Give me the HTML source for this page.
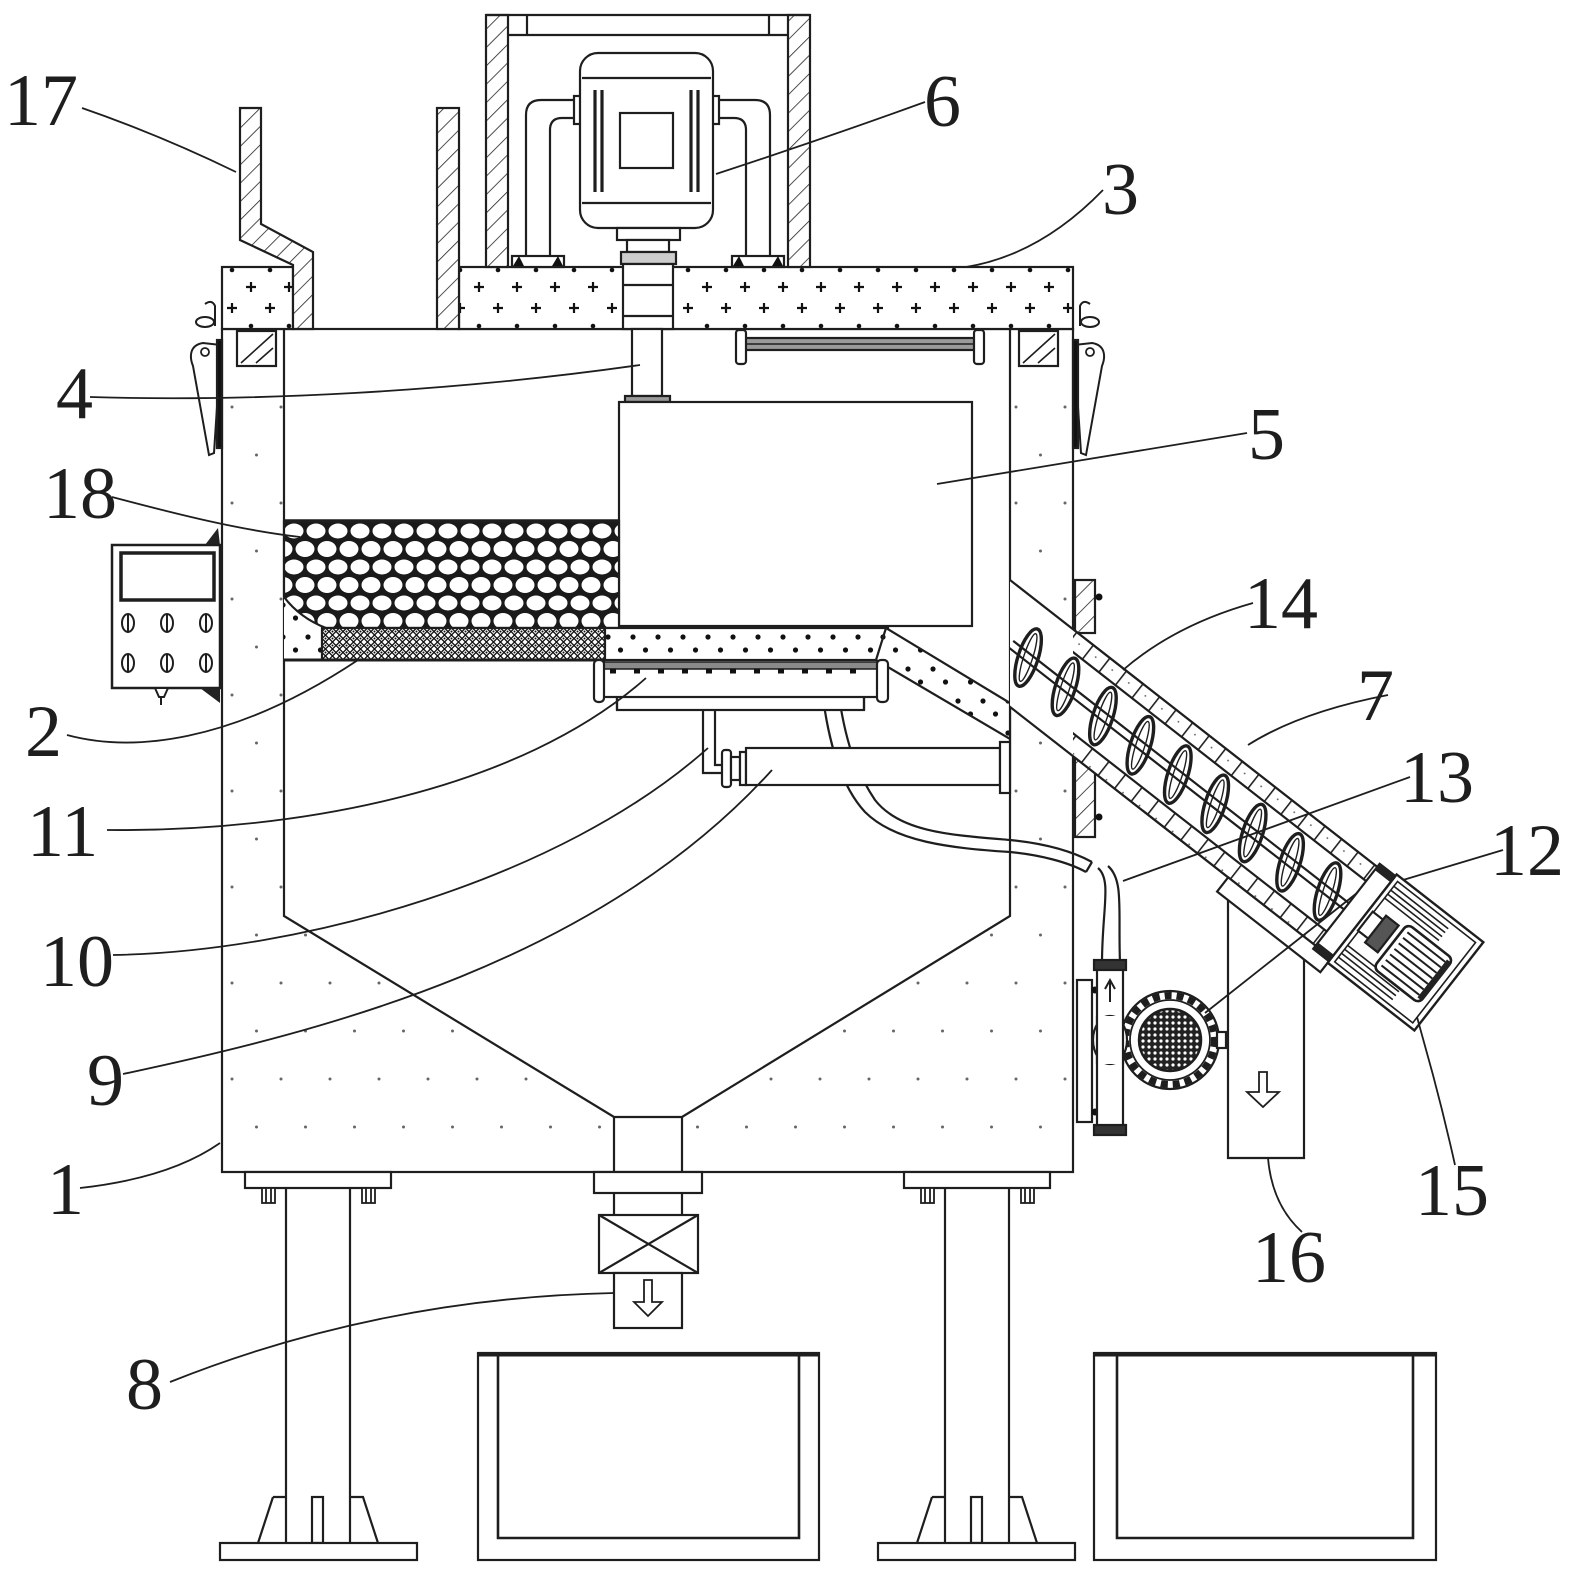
<!DOCTYPE html>
<html><head><meta charset="utf-8"><style>
html,body{margin:0;padding:0;background:#fff;}
svg{display:block;}
text{font-family:"Liberation Serif",serif;font-size:74px;fill:#1e1e1e;}
</style></head><body>
<svg width="1573" height="1577" viewBox="0 0 1573 1577" xmlns="http://www.w3.org/2000/svg">
<defs>
 <pattern id="hatch" patternUnits="userSpaceOnUse" width="13" height="13" patternTransform="rotate(45)">
  <rect width="13" height="13" fill="#fff"/>
  <line x1="0" y1="0" x2="0" y2="13" stroke="#222" stroke-width="1.6"/>
 </pattern>
 <pattern id="lidp" patternUnits="userSpaceOnUse" x="479" y="267" width="38" height="62">
  <rect width="38" height="62" fill="#fff"/>
  <path d="M-5,20h10M0,15v10M33,20h10M38,15v10M14,41h10M19,36v10" stroke="#111" stroke-width="2.2"/>
  <circle cx="19" cy="3" r="2.3" fill="#111"/>
  <circle cx="0" cy="59" r="2.3" fill="#111"/><circle cx="38" cy="59" r="2.3" fill="#111"/>
 </pattern>
 <pattern id="dots" patternUnits="userSpaceOnUse" x="232" y="695" width="49" height="96">
  <circle cx="0" cy="0" r="1.5" fill="#666"/><circle cx="49" cy="0" r="1.5" fill="#666"/>
  <circle cx="0" cy="96" r="1.5" fill="#666"/><circle cx="49" cy="96" r="1.5" fill="#666"/>
  <circle cx="24.5" cy="48" r="1.5" fill="#666"/>
 </pattern>
 <pattern id="bandp" patternUnits="userSpaceOnUse" x="600" y="628" width="25" height="32">
  <rect width="25" height="32" fill="#fff"/>
  <circle cx="8" cy="9" r="2.6" fill="#111"/><circle cx="20.5" cy="22" r="2.6" fill="#111"/>
 </pattern>
 <pattern id="mesh" patternUnits="userSpaceOnUse" x="0" y="628" width="7" height="7">
  <rect width="7" height="7" fill="#fff"/>
  <path d="M0,3.5 L3.5,0 L7,3.5 L3.5,7 Z" fill="none" stroke="#111" stroke-width="1.3"/>
  <circle cx="3.5" cy="3.5" r="1" fill="#111"/>
 </pattern>
 <pattern id="stones" patternUnits="userSpaceOnUse" x="283" y="522" width="44" height="36">
  <rect width="44" height="36" fill="#1a1a1a"/>
  <ellipse cx="11" cy="9" rx="9.5" ry="7.5" fill="#fff"/>
  <ellipse cx="33" cy="9" rx="9.5" ry="7.5" fill="#fff"/>
  <ellipse cx="0" cy="27" rx="9.5" ry="8" fill="#fff"/>
  <ellipse cx="22" cy="27" rx="9.5" ry="8" fill="#fff"/>
  <ellipse cx="44" cy="27" rx="9.5" ry="8" fill="#fff"/>
 </pattern>
 <pattern id="pm" patternUnits="userSpaceOnUse" width="6" height="6">
  <rect width="6" height="6" fill="#222"/>
  <circle cx="3" cy="3" r="1.6" fill="#fff"/>
 </pattern>
 <pattern id="cells" patternUnits="userSpaceOnUse" x="0" y="0" width="21" height="18">
  <rect width="21" height="18" fill="#fff"/>
  <line x1="0.8" y1="0" x2="0.8" y2="18" stroke="#222" stroke-width="1.6"/>
  <circle cx="10" cy="8" r="0.9" fill="#555"/>
 </pattern>
 <clipPath id="clipIn" clipPathUnits="userSpaceOnUse"><rect x="1010" y="0" width="600" height="1577"/></clipPath>
 <clipPath id="clipOut" clipPathUnits="userSpaceOnUse"><rect x="1073" y="0" width="600" height="1577"/></clipPath>
 <g id="latch">
  <path d="M205,304 q7,-5 10,2 l0,20" fill="none" stroke="#1e1e1e" stroke-width="2"/>
  <ellipse cx="205" cy="322" rx="9" ry="5" fill="none" stroke="#1e1e1e" stroke-width="2"/>
  <path d="M203,343 C190,345 189,356 193,366 L209,455 L214,453 L221,345 Z" fill="#fff" stroke="#1e1e1e" stroke-width="2"/>
  <rect x="217" y="340" width="5" height="108" fill="#111"/>
  <circle cx="205" cy="352" r="4" fill="none" stroke="#1e1e1e" stroke-width="1.8"/>
 </g>
</defs>

<g fill="none" stroke="#1e1e1e" stroke-width="2.2">

<!-- ===== Tank walls with dots ===== -->
<path d="M222,329 H284 V916 L614,1117 V1172 H222 Z" fill="#fff" stroke="none"/>
<path d="M222,329 H284 V916 L614,1117 V1172 H222 Z" fill="url(#dots)" stroke="none"/>
<path d="M1073,329 H1010 V916 L682,1117 V1172 H1073 Z" fill="#fff" stroke="none"/>
<path d="M1073,329 H1010 V916 L682,1117 V1172 H1073 Z" fill="url(#dots)" stroke="none"/>
<rect x="222" y="329" width="851" height="843"/>
<path d="M284,329 V916 L614,1117 H682 L1010,916 V329"/>
<path d="M614,1117 V1172 M682,1117 V1172"/>

<!-- small hatched squares under lid -->
<rect x="237" y="331" width="39" height="35" fill="#fff"/>
<path d="M241,363 L273,334 M256,363 L273,348" stroke-width="1.6"/>
<rect x="1019" y="331" width="39" height="35" fill="#fff"/>
<path d="M1023,363 L1055,334 M1038,363 L1055,348" stroke-width="1.6"/>

<!-- handle -->
<rect x="745" y="338" width="230" height="12" fill="#9a9a9a"/>
<path d="M745,344 H975" stroke-width="1.4"/>
<rect x="736" y="330" width="10" height="34" rx="3" fill="#fff"/>
<rect x="974" y="330" width="10" height="34" rx="3" fill="#fff"/>

<!-- ===== Lid ===== -->
<rect x="222" y="267" width="71" height="62" fill="url(#lidp)"/>
<rect x="459" y="267" width="614" height="62" fill="url(#lidp)"/>

<!-- hopper 17 -->
<path d="M240,108 H261 V224 L313,252 V329 H293 V265 L240,240 Z" fill="url(#hatch)"/>
<rect x="437" y="108" width="22" height="221" fill="url(#hatch)"/>

<!-- motor box -->
<rect x="486" y="15" width="22" height="252" fill="url(#hatch)"/>
<rect x="788" y="15" width="22" height="252" fill="url(#hatch)"/>
<path d="M486,15 H810 M508,35 H788 M527,15 V35 M769,15 V35"/>

<!-- motor stand -->
<path d="M578,100 H541 Q526,100 526,115 V256"/>
<path d="M578,118 H562 Q550,118 550,130 V256"/>
<path d="M718,100 H755 Q770,100 770,115 V256"/>
<path d="M718,118 H734 Q746,118 746,130 V256"/>
<rect x="512" y="256" width="52" height="11" fill="#fff"/>
<rect x="732" y="256" width="52" height="11" fill="#fff"/>
<path d="M513,266 L519,256 L524,266 Z M552,266 L558,256 L563,266 Z M733,266 L739,256 L744,266 Z M772,266 L778,256 L783,266 Z" fill="#111" stroke="none"/>

<!-- motor -->
<rect x="574" y="96" width="7" height="28" fill="#fff"/>
<rect x="712" y="96" width="7" height="28" fill="#fff"/>
<rect x="580" y="53" width="133" height="175" rx="18" fill="#fff"/>
<path d="M582,78 H711 M582,203 H711"/>
<path d="M595,90 V192 M602,90 V192 M691,90 V192 M698,90 V192" stroke-width="3.2"/>
<rect x="620" y="113" width="53" height="55"/>

<!-- shaft and coupling -->
<rect x="617" y="228" width="63" height="12" fill="#fff"/>
<rect x="627" y="240" width="42" height="12" fill="#fff"/>
<rect x="621" y="252" width="55" height="12" fill="#ccc"/>
<rect x="623" y="264" width="50" height="65" fill="#fff"/>
<path d="M623,285 H673 M623,316 H673"/>
<rect x="632" y="329" width="30" height="67" fill="#fff"/>
<rect x="625" y="396" width="45" height="6" fill="#999"/>

<!-- box 5 -->
<rect x="619" y="402" width="353" height="224" fill="#fff"/>

<!-- latches -->
<use href="#latch"/>
<use href="#latch" transform="translate(1295,0) scale(-1,1)"/>

<!-- ===== filter / screen ===== -->
<rect x="284" y="597" width="40" height="63" fill="url(#bandp)" stroke="none"/>
<path d="M284,521 H619 V628 H326 Q300,618 284,597 Z" fill="url(#stones)"/>
<path d="M284,521 H619" stroke-width="3.5"/>
<rect x="322" y="628" width="283" height="32" fill="url(#mesh)"/>
<rect x="605" y="628" width="283" height="32" fill="url(#bandp)"/>
<path d="M886,628 L1010,703 L1010,739 L876,660 Z" fill="url(#bandp)"/>
<path d="M284,660 H605" stroke-width="3"/>

<!-- hose inside tank -->
<path d="M838,690 C845,740 855,770 875,800 C900,832 950,835 1010,840 C1040,843 1070,850 1092,862"/>
<path d="M822,690 C828,740 840,785 865,812 C895,842 950,848 1010,852 C1040,855 1068,862 1086,872"/>
<path d="M1086,872 L1092,862"/>

<!-- spray pipe 11 -->
<rect x="617" y="690" width="247" height="20" fill="#fff"/>
<path d="M617,665 V710 M864,665 V710"/>
<rect x="600" y="665" width="282" height="32" fill="#fff"/>
<rect x="600" y="662" width="282" height="7" fill="#8a8a8a" stroke-width="1.5"/>
<path d="M610,671 h6 M634,671 h6 M658,671 h6 M682,671 h6 M706,671 h6 M730,671 h6 M754,671 h6 M778,671 h6 M802,671 h6 M826,671 h6 M850,671 h6" stroke="#111" stroke-width="5"/>
<rect x="594" y="660" width="10" height="42" rx="4" fill="#fff"/>
<rect x="877" y="660" width="11" height="42" rx="4" fill="#fff"/>

<!-- pipe to tube 9 -->
<path d="M703,710 V773 H722 M715,710 V765 H722"/>
<rect x="722" y="750" width="9" height="37" rx="3" fill="#fff"/>
<rect x="731" y="757" width="9" height="23" fill="#fff"/>
<rect x="740" y="752" width="6" height="33" fill="#fff"/>
<rect x="746" y="748" width="254" height="37" fill="#fff"/>
<rect x="1000" y="742" width="10" height="51" fill="#fff"/>

<!-- brackets on tank right wall -->
<rect x="1075" y="580" width="20" height="53" fill="url(#hatch)"/>
<rect x="1075" y="757" width="20" height="80" fill="url(#hatch)"/>
<circle cx="1099" cy="597" r="3.5" fill="#111" stroke="none"/>
<circle cx="1099" cy="817" r="3.5" fill="#111" stroke="none"/>

<!-- ===== conveyor 7 ===== -->
<g clip-path="url(#clipIn)">
 <g transform="translate(1010,580) rotate(38)">
  <rect x="-30" y="0" width="500" height="100" fill="#fff" stroke="none"/>
  <path d="M-30,0 H470 M-30,100 H470"/>
  <path d="M40,46 H470 M40,54 H470"/>
  <g stroke-width="3.4">
   <ellipse cx="62" cy="50" rx="10" ry="30" transform="rotate(-20 62 50)"/>
   <ellipse cx="109.5" cy="50" rx="10" ry="30" transform="rotate(-20 109.5 50)"/>
   <ellipse cx="157" cy="50" rx="10" ry="30" transform="rotate(-20 157 50)"/>
   <ellipse cx="204.5" cy="50" rx="10" ry="30" transform="rotate(-20 204.5 50)"/>
   <ellipse cx="252" cy="50" rx="10" ry="30" transform="rotate(-20 252 50)"/>
   <ellipse cx="299.5" cy="50" rx="10" ry="30" transform="rotate(-20 299.5 50)"/>
   <ellipse cx="347" cy="50" rx="10" ry="30" transform="rotate(-20 347 50)"/>
   <ellipse cx="394.5" cy="50" rx="10" ry="30" transform="rotate(-20 394.5 50)"/>
   <ellipse cx="442" cy="50" rx="10" ry="30" transform="rotate(-20 442 50)"/>
  </g>
  <g stroke-width="1.4">
   <ellipse cx="62" cy="50" rx="4.5" ry="25" transform="rotate(-20 62 50)"/>
   <ellipse cx="109.5" cy="50" rx="4.5" ry="25" transform="rotate(-20 109.5 50)"/>
   <ellipse cx="157" cy="50" rx="4.5" ry="25" transform="rotate(-20 157 50)"/>
   <ellipse cx="204.5" cy="50" rx="4.5" ry="25" transform="rotate(-20 204.5 50)"/>
   <ellipse cx="252" cy="50" rx="4.5" ry="25" transform="rotate(-20 252 50)"/>
   <ellipse cx="299.5" cy="50" rx="4.5" ry="25" transform="rotate(-20 299.5 50)"/>
   <ellipse cx="347" cy="50" rx="4.5" ry="25" transform="rotate(-20 347 50)"/>
   <ellipse cx="394.5" cy="50" rx="4.5" ry="25" transform="rotate(-20 394.5 50)"/>
   <ellipse cx="442" cy="50" rx="4.5" ry="25" transform="rotate(-20 442 50)"/>
  </g>
 </g>
</g>
<g clip-path="url(#clipOut)">
 <g transform="translate(1010,580) rotate(38)">
  <rect x="0" y="0" width="470" height="18" fill="url(#cells)"/>
  <rect x="0" y="82" width="470" height="18" fill="url(#cells)"/>
 </g>
</g>
<g transform="translate(1010,580) rotate(38)">
 <rect x="355" y="100" width="131" height="18" fill="#fff"/>
 <rect x="466" y="-4" width="20" height="108" fill="#fff"/>
 <rect x="466" y="-4" width="20" height="8" fill="#222" stroke="none"/>
 <rect x="466" y="96" width="20" height="8" fill="#222" stroke="none"/>
 <rect x="486" y="-6" width="110" height="112" fill="#fff" stroke-width="2.4"/>
 <rect x="491" y="-1" width="99" height="102" stroke-width="1.6"/>
 <path d="M491,5 H560 M491,10 H560 M491,15 H560 M491,20 H560 M491,80 H560 M491,85 H560 M491,90 H560 M491,95 H560" stroke-width="1.6"/>
 <rect x="490" y="38" width="22" height="24" fill="#fff"/>
 <rect x="503" y="33" width="16" height="34" fill="#555"/>
 <rect x="525" y="26" width="58" height="56" rx="6" fill="#fff" stroke-width="2.6"/>
 <path d="M530,33 H578 M530,40 H578 M530,47 H578 M530,54 H578 M530,61 H578 M530,68 H578 M530,75 H578" stroke-width="2"/>
 <rect x="578" y="30" width="6" height="48" fill="#222" stroke="none"/>
</g>

<!-- pump hose -->
<path d="M1098,868 C1112,880 1102,910 1102,963"/>
<path d="M1108,866 C1124,880 1118,910 1120,963"/>

<!-- pump -->
<rect x="1077" y="980" width="15" height="142" fill="#fff"/>
<circle cx="1095" cy="990" r="3.5" fill="#111" stroke="none"/>
<circle cx="1095" cy="1112" r="3.5" fill="#111" stroke="none"/>
<circle cx="1170" cy="1040" r="49" fill="#fff"/>
<circle cx="1170" cy="1040" r="44.5" stroke-width="7" stroke-dasharray="7 5"/>
<circle cx="1170" cy="1040" r="40" stroke-width="1.8"/>
<circle cx="1170" cy="1040" r="31" fill="url(#pm)" stroke-width="2.5"/>
<rect x="1217" y="1032" width="9" height="16" fill="#fff"/>
<rect x="1097" y="965" width="26" height="167" fill="#fff"/>
<ellipse cx="1110" cy="1040" rx="17" ry="24" fill="#fff"/>
<rect x="1097" y="1016" width="26" height="48" fill="#fff" stroke="none"/>
<path d="M1097,1016 V1064 M1123,1016 V1064"/>
<rect x="1094" y="960" width="32" height="10" fill="#333"/>
<rect x="1094" y="1125" width="32" height="10" fill="#333"/>
<path d="M1110,1002 V982 M1105,989 L1110,980 L1115,989" stroke-width="2"/>

<!-- chute 16 -->
<path d="M1228,900 V1158 H1304 V959"/>
<path d="M1259,1072 H1267 V1092 H1279 L1263,1107 L1247,1092 H1259 Z" stroke-width="1.8"/>

<!-- ===== bottom: legs ===== -->
<rect x="245" y="1172" width="146" height="16" fill="#fff"/>
<rect x="904" y="1172" width="146" height="16" fill="#fff"/>
<g stroke-width="1.8" fill="#fff">
 <rect x="262" y="1188" width="13" height="15"/><path d="M266,1188 V1203 M271,1188 V1203"/>
 <rect x="362" y="1188" width="13" height="15"/><path d="M366,1188 V1203 M371,1188 V1203"/>
 <rect x="921" y="1188" width="13" height="15"/><path d="M925,1188 V1203 M930,1188 V1203"/>
 <rect x="1021" y="1188" width="13" height="15"/><path d="M1025,1188 V1203 M1030,1188 V1203"/>
</g>
<path d="M286,1188 V1543 M350,1188 V1543 M945,1188 V1543 M1009,1188 V1543"/>
<path d="M273,1497 H286 M258,1543 L273,1497 M350,1497 H363 L378,1543"/>
<rect x="312" y="1497" width="11" height="46"/>
<path d="M932,1497 H945 M917,1543 L932,1497 M1009,1497 H1022 L1037,1543"/>
<rect x="971" y="1497" width="11" height="46"/>
<rect x="220" y="1543" width="197" height="17" fill="#fff"/>
<rect x="878" y="1543" width="197" height="17" fill="#fff"/>

<!-- outlet / valve -->
<rect x="594" y="1172" width="108" height="21" fill="#fff"/>
<path d="M614,1193 V1215 M682,1193 V1215"/>
<rect x="599" y="1215" width="99" height="58" fill="#fff"/>
<path d="M599,1215 L698,1273 M698,1215 L599,1273"/>
<rect x="614" y="1273" width="68" height="55" fill="#fff"/>
<path d="M644,1280 H652 V1302 H662 L648,1316 L634,1302 H644 Z" stroke-width="1.8"/>

<!-- bins -->
<rect x="478" y="1353" width="341" height="207"/>
<path d="M498,1355 V1538 H799 V1355" stroke-width="2.6"/>
<path d="M478,1355 H819" stroke-width="3"/>
<rect x="1094" y="1353" width="342" height="207"/>
<path d="M1117,1355 V1538 H1413 V1355" stroke-width="2.6"/>
<path d="M1094,1355 H1436" stroke-width="3"/>

<!-- control panel -->
<path d="M205,545 L218,528 L220,545 Z" fill="#222" stroke="none"/>
<rect x="112" y="545" width="108" height="143" fill="#fff" stroke-width="2.5"/>
<rect x="121" y="553" width="93" height="47" stroke-width="3.5"/>
<g stroke-width="2">
 <ellipse cx="128" cy="623" rx="6" ry="9"/><path d="M128,615 V631"/>
 <ellipse cx="167" cy="623" rx="6" ry="9"/><path d="M167,615 V631"/>
 <ellipse cx="206" cy="623" rx="6" ry="9"/><path d="M206,615 V631"/>
 <ellipse cx="128" cy="663" rx="6" ry="9"/><path d="M128,655 V671"/>
 <ellipse cx="167" cy="663" rx="6" ry="9"/><path d="M167,655 V671"/>
 <ellipse cx="206" cy="663" rx="6" ry="9"/><path d="M206,655 V671"/>
</g>
<path d="M155,688 H168 L164,697 H159 Z M161,697 V705" fill="#fff" stroke-width="2"/>
<path d="M200,688 H220 V703 Z" fill="#222" stroke="none"/>

<!-- ===== leader lines ===== -->
<g stroke-width="1.8">
 <path d="M82,108 Q160,135 236,172"/>
 <path d="M925,102 Q820,140 716,174"/>
 <path d="M1103,190 Q1040,255 966,267"/>
 <path d="M90,397 C250,402 450,392 640,365"/>
 <path d="M1247,433 L937,484"/>
 <path d="M112,497 C180,515 240,530 300,537"/>
 <path d="M1253,603 Q1175,625 1123,670"/>
 <path d="M1388,695 Q1300,712 1248,745"/>
 <path d="M1410,777 L1123,881"/>
 <path d="M1503,850 L1403,880"/>
 <path d="M1205,1013 L1357,893"/>
 <path d="M1417,1017 L1433,1075 Q1445,1120 1455,1165"/>
 <path d="M1268,1158 Q1272,1205 1302,1232"/>
 <path d="M80,1188 Q170,1178 220,1143"/>
 <path d="M67,735 C130,752 230,745 358,660"/>
 <path d="M107,830 C300,832 520,790 646,678"/>
 <path d="M113,955 C300,952 560,880 708,748"/>
 <path d="M123,1074 C330,1030 600,960 772,770"/>
 <path d="M170,1382 Q380,1298 614,1293"/>
</g>
</g>

<!-- ===== labels ===== -->
<text x="4" y="125">17</text>
<text x="924" y="126">6</text>
<text x="1102" y="214">3</text>
<text x="56" y="418">4</text>
<text x="1248" y="459">5</text>
<text x="43" y="518">18</text>
<text x="1244" y="628">14</text>
<text x="1357" y="720">7</text>
<text x="1400" y="802">13</text>
<text x="1490" y="875">12</text>
<text x="25" y="756">2</text>
<text x="27" y="856">11</text>
<text x="40" y="986">10</text>
<text x="87" y="1105">9</text>
<text x="47" y="1214">1</text>
<text x="1415" y="1215">15</text>
<text x="1252" y="1282">16</text>
<text x="126" y="1409">8</text>
</svg>
</body></html>
